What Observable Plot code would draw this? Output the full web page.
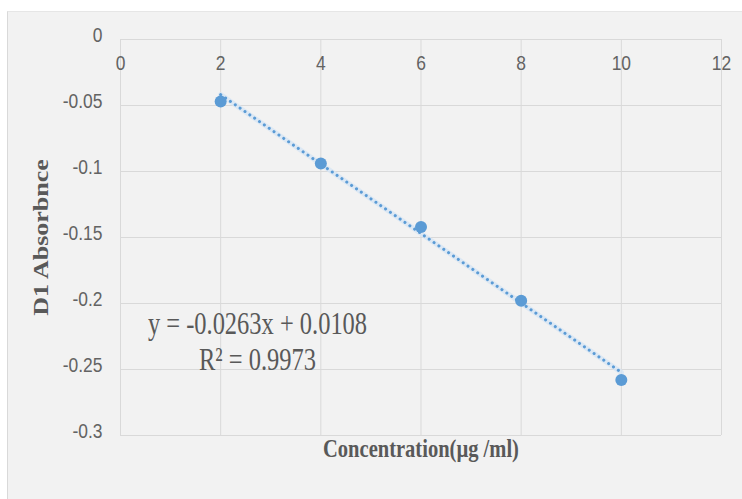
<!DOCTYPE html>
<html>
<head>
<meta charset="utf-8">
<script src="https://cdn.jsdelivr.net/npm/d3@7"></script>
<script src="https://cdn.jsdelivr.net/npm/@observablehq/plot@0.6"></script>
<style>
  html, body { margin: 0; padding: 0; background: #ffffff; }
  #wrap { position: relative; width: 742px; height: 499px; overflow: hidden; background: #ffffff; }
  #panel { position: absolute; left: 7px; top: 11px; right: 0; bottom: 0; background: #f2f2f2; border-left: 1px solid #d9d9d9; border-top: 1px solid #e6e6e6; }
  #chart { position: absolute; left: 0; top: 0; }
</style>
</head>
<body>
<div id="wrap"><div id="panel"></div><div id="chart"></div></div>
<script>
// Data
const concentration = [2, 4, 6, 8, 10];
const absorbance = [-0.047, -0.094, -0.142, -0.198, -0.258];

// Trendline as given by the chart's equation
const trendSlope = -0.0263;
const trendIntercept = 0.0108;
const trendRange = [2, 10];
const equationText = "y = -0.0263x + 0.0108";
const r2Text = "R\u00B2 = 0.9973";

// Ticks
const xTicks = [0, 2, 4, 6, 8, 10, 12];
const xTickLabels = ["0", "2", "4", "6", "8", "10", "12"];
const yTicks = [0, -0.05, -0.1, -0.15, -0.2, -0.25, -0.3];
const yTickLabels = ["0", "-0.05", "-0.1", "-0.15", "-0.2", "-0.25", "-0.3"];

const xTitle = "Concentration(\u00B5g /ml)";
const yTitle = "D1 Absorbnce";

const points = concentration.map((c, i) => ({x: c, y: absorbance[i]}));
const trend = trendRange.map(x => ({x, y: trendSlope * x + trendIntercept}));

const blue = "#5b9bd5";
const grid = "#d9d9d9";
const labelColor = "#595959";
const tickColor = "#636363";
const tickFont = "'Liberation Sans', Arial, sans-serif";
const serif = "'Liberation Serif', 'Times New Roman', serif";

const chart = Plot.plot({
  width: 742,
  height: 499,
  marginLeft: 120,
  marginRight: 21,
  marginTop: 39,
  marginBottom: 64,
  style: {background: "transparent", overflow: "visible"},
  x: {domain: [0, 12], axis: null},
  y: {domain: [-0.3, 0], axis: null},
  marks: [
    Plot.gridX(xTicks, {stroke: grid, strokeOpacity: 1, strokeWidth: 1}),
    Plot.gridY(yTicks, {stroke: grid, strokeOpacity: 1, strokeWidth: 1}),
    // y tick labels
    Plot.text(yTicks, {
      x: 0, y: d => d,
      text: (d, i) => yTickLabels[i],
      textAnchor: "end", lineAnchor: "middle", dx: -18, dy: 2,
      fill: tickColor, fontSize: 21, fontFamily: tickFont,
      className: "sq-tick"
    }),
    // x tick labels (drawn below the top line, inside the frame)
    Plot.text(xTicks, {
      x: d => d, y: 0,
      text: (d, i) => xTickLabels[i],
      textAnchor: "middle", lineAnchor: "middle", dy: 30,
      fill: tickColor, fontSize: 21, fontFamily: tickFont,
      className: "sq-tick"
    }),
    // trendline halo + dotted trendline
    Plot.line(trend, {x: "x", y: "y", stroke: "#d6e5f4", strokeWidth: 5, strokeOpacity: 0.8}),
    Plot.line(trend, {
      x: "x", y: "y",
      stroke: blue, strokeWidth: 3,
      strokeDasharray: "0.1,5.8", strokeLinecap: "round"
    }),
    // data points
    Plot.dot(points, {x: "x", y: "y", r: 6, fill: blue, stroke: null}),
    // equation
    Plot.text([equationText + "\n" + r2Text], {
      x: 2.735, y: -0.2277,
      text: d => d,
      textAnchor: "middle", lineAnchor: "middle", lineHeight: 1.13,
      fill: labelColor, fontSize: 32, fontFamily: serif,
      className: "sq-eq"
    }),
    // axis titles
    Plot.text([xTitle], {
      frameAnchor: "bottom", text: d => d, textAnchor: "middle", lineAnchor: "middle", dy: 21,
      fill: labelColor, fontSize: 26, fontWeight: "bold", fontFamily: serif,
      className: "sq-xt"
    }),
    Plot.text([yTitle], {
      frameAnchor: "left", text: d => d, textAnchor: "middle", lineAnchor: "middle",
      dx: -73, rotate: -90,
      fill: labelColor, fontSize: 26, fontWeight: "bold", fontFamily: serif,
      className: "sq-yt"
    })
  ]
});

// Horizontal condensing of text (the reference's lettering is narrow)
function squeeze(selector, sx, sy) {
  chart.querySelectorAll(selector + " text").forEach(el => {
    const t = el.getAttribute("transform") || "";
    const x = +el.getAttribute("x") || 0;
    const y = +el.getAttribute("y") || 0;
    el.removeAttribute("x");
    el.removeAttribute("y");
    el.setAttribute("transform", `${t} translate(${x},${y}) scale(${sx},${sy})`);
  });
}
squeeze(".sq-tick", 0.83, 1);
squeeze(".sq-eq", 0.765, 1);
squeeze(".sq-xt", 0.79, 1);
squeeze(".sq-yt", 1, 0.78);

document.getElementById("chart").appendChild(chart);
</script>
</body>
</html>
